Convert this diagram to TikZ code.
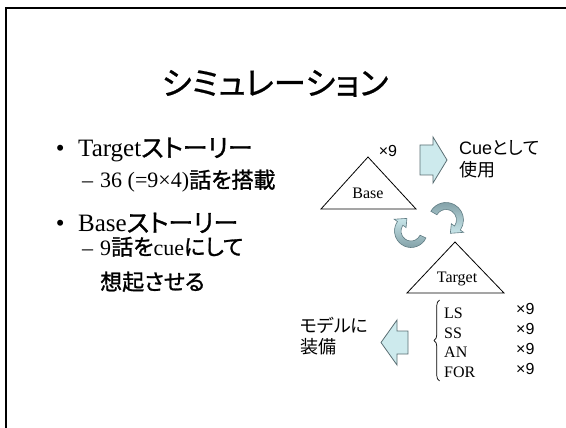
\documentclass[tikz,border=0pt]{standalone}
\usepackage{fontspec}
\setmainfont{Liberation Serif}
\newfontfamily\jpg[RawFeature=+palt]{Noto Sans CJK JP}
\newfontfamily\jpb[RawFeature=+palt,FakeBold=1.2]{Noto Sans CJK JP}
\newfontfamily\jpt[RawFeature=+palt,FakeBold=0.7]{Noto Sans CJK JP}
\newfontfamily\arf{Liberation Sans}
\usetikzlibrary{calc,decorations.pathreplacing}
\definecolor{cDark}{HTML}{7E9CA3}
\definecolor{cLight}{HTML}{C8E6EA}
\definecolor{cEdge}{HTML}{5F7B82}
\definecolor{bFill}{HTML}{CDEAED}
\definecolor{bEdge}{HTML}{5A6E73}
\tikzset{
  lvA/.style={anchor=base west, inner sep=0pt, font=\fontsize{25}{30}\selectfont},
  lvB/.style={anchor=base west, inner sep=0pt, font=\fontsize{22}{26}\selectfont},
  lbl/.style={anchor=base, inner sep=0pt, font=\fontsize{16}{19}\selectfont},
  lbll/.style={anchor=base west, inner sep=0pt, font=\fontsize{16}{19}\selectfont},
  arl/.style={anchor=base west, inner sep=0pt, font=\arf\fontsize{16}{19}\selectfont},
  jpl/.style={anchor=base west, inner sep=0pt, font=\jpg\fontsize{18}{21}\selectfont},
  tri/.style={draw=black, line width=0.8pt, line join=miter},
  blk/.style={draw=bEdge, fill=bFill, line width=0.8pt, line join=miter},
  cyc/.style={draw=cEdge, line width=0.6pt}
}
\begin{document}
\begin{tikzpicture}[x=1pt,y=-1pt]
\useasboundingbox (0,0) rectangle (566,428);
% frame
\draw[line width=2.3pt] (6.2,428) -- (6.2,7.8) -- (566,7.8);
% title
\node[anchor=base, inner sep=0pt, font=\jpt\fontsize{32.5}{36}\selectfont] (title) at (275,95) {シミュレーション};
% bullets
\node[lvA] (b1) at (55.6,157) {•};
\node[lvA] (t1) at (78,157) {Target{\jpb ストーリー}};
\node[lvB] (d1) at (82,188) {–};
\node[lvB] (s1) at (100,188) {36 (=9×4){\jpb 話を搭載}};
\node[lvA] (b2) at (55.6,232) {•};
\node[lvA] (t2) at (78,232) {Base{\jpb ストーリー}};
\node[lvB] (d2) at (82,255) {–};
\node[lvB] (s2) at (100,255) {9{\jpb 話を}cue{\jpb にして}};
\node[lvB] (s3) at (100,290) {\jpb 想起させる};
% triangles
\draw[tri] (368,157) -- (321,209) -- (416,209) -- cycle;
\node[lbl] (base) at (368,198) {Base};
\node[anchor=base, inner sep=0pt, font=\arf\fontsize{16}{19}\selectfont] (x9b) at (388,157) {×9};
\draw[tri] (455,242) -- (407,293) -- (504,293) -- cycle;
\node[lbl] (target) at (457,283) {Target};
% right block arrow
\draw[blk] (420,145) -- (433,145) -- (433,137) -- (447,160) -- (433,183) -- (433,175) -- (420,175) -- cycle;
\node[jpl] (cue1) at (459,154) {{\arf Cue}として};
\node[jpl] (cue2) at (459,177) {使用};
% curved arrows
\shadedraw[cyc, top color=cDark, bottom color=cLight]
  ($(446,220)+(210:10.5)$) -- ($(446,220)+(210:17.5)$)
  arc[start angle=210, end angle=395, radius=17.5]
  -- ($(446,220)+(395:21.5)$) -- ($(446,220)+(432:14)$) -- ($(446,220)+(395:6.5)$)
  -- ($(446,220)+(395:10.5)$)
  arc[start angle=395, end angle=210, radius=10.5] -- cycle;
\shadedraw[cyc, top color=cLight, bottom color=cDark]
  ($(411,231)+(25:10)$) -- ($(411,231)+(25:16.5)$)
  arc[start angle=25, end angle=215, radius=16.5]
  -- ($(411,231)+(215:20.5)$) -- ($(411,231)+(252:13.25)$) -- ($(411,231)+(215:6)$)
  -- ($(411,231)+(215:10)$)
  arc[start angle=215, end angle=25, radius=10] -- cycle;
% brace and list
\draw[line width=0.7pt, decorate, decoration={brace, amplitude=5.5pt}] (439.5,381) -- (439.5,300);
\node[lbll] (ls) at (444,318) {LS};
\node[lbll] (ss) at (444,338) {SS};
\node[lbll] (an) at (444,357) {AN};
\node[lbll] (for) at (444,377) {FOR};
\node[arl] (x1) at (516,314) {×9};
\node[arl] (x2) at (516,334) {×9};
\node[arl] (x3) at (516,354) {×9};
\node[arl] (x4) at (516,374) {×9};
% left block arrow
\draw[blk] (408,331) -- (397,331) -- (397,320) -- (381,342.5) -- (397,365) -- (397,354) -- (408,354) -- cycle;
\node[jpl] (m1) at (300,332) {モデルに};
\node[jpl] (m2) at (300,353) {装備};
\end{tikzpicture}
\end{document}
